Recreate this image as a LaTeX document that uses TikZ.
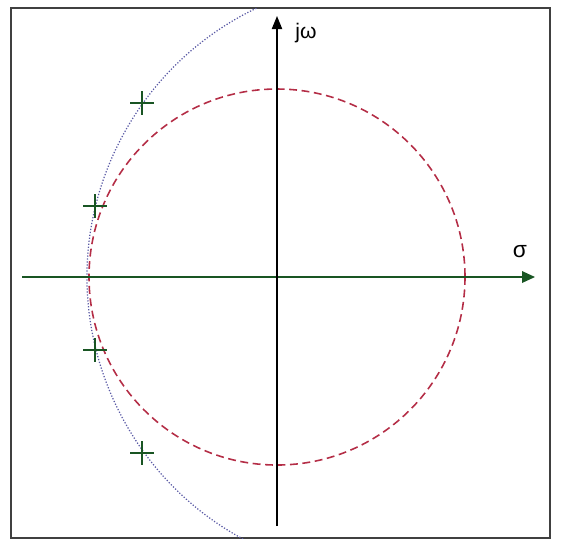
\documentclass[tikz,border=0pt]{standalone}
\usepackage{fontspec}
\setmainfont{Liberation Sans}
\usepackage{tikz}
\usepackage{xcolor}
\usetikzlibrary{arrows.meta}
\definecolor{axisgreen}{RGB}{25,85,35}
\definecolor{circred}{RGB}{180,45,70}
\definecolor{arcblue}{RGB}{90,90,165}

\begin{document}
\begin{tikzpicture}[x=0.02cm,y=-0.02cm]
\useasboundingbox (0,0) rectangle (563,539);
\draw[black!75,line width=1.1pt] (11,8) rectangle (550,538);
\begin{scope}
\clip (11,8) rectangle (550,538);
\draw[arcblue,densely dotted,line width=0.7pt] (385,277) ++(115:298) arc (115:245:298);
\end{scope}
\draw[circred,dash pattern=on 4.5pt off 2.6pt,line width=0.9pt] (277,277) circle (188);
\coordinate (sigmastart) at (22,277);
\coordinate (sigmaend) at (535,277);
\coordinate (omegastart) at (277,526);
\coordinate (omegaend) at (277,16);
\draw[axisgreen,line width=0.85pt,-{Triangle[length=7.4pt,width=6.6pt]}] (sigmastart) -- (sigmaend);
\draw[black,line width=0.85pt,-{Triangle[length=7.4pt,width=5.8pt]}] (omegastart) -- (omegaend);
\node[font=\fontsize{12}{14}\selectfont] (omegalabel) at (306,33) {jω};
\node[font=\fontsize{13}{15}\selectfont] (sigmalabel) at (520,252) {σ};
\foreach \px/\py in {142/103,95/206,95/350,142/453}
  \draw[axisgreen,line width=0.8pt] (\px-12,\py) -- (\px+12,\py) (\px,\py-12) -- (\px,\py+12);
\end{tikzpicture}
\end{document}
